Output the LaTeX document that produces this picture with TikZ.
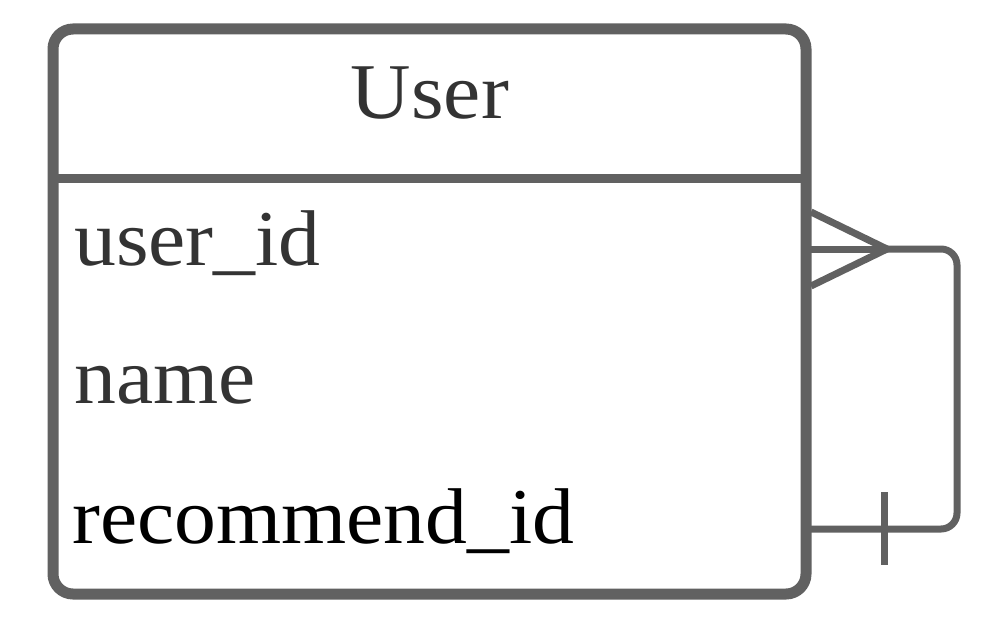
\documentclass[tikz,border=0pt]{standalone}
\usepackage{fontspec}
\setmainfont{Liberation Serif}[FakeStretch=1.06]
\definecolor{linegray}{RGB}{97,97,97}
\definecolor{textgray}{RGB}{51,51,51}
\begin{document}
\begin{tikzpicture}[x=1pt,y=-1pt,
  lbl/.style={anchor=base west,inner sep=0pt,font=\fontsize{79}{90}\selectfont},
  conn/.style={draw=linegray,line width=7pt}]
\useasboundingbox (0,0) rectangle (982,626);
\draw[draw=linegray,line width=11pt,rounded corners=20pt] (53,29) rectangle (806,594);
\coordinate (hl) at (53,178);
\coordinate (hr) at (806,178);
\draw[draw=linegray,line width=9pt] (hl) -- (hr);
\node[lbl,anchor=base,text=textgray] (title) at (430,118) {User};
\node[lbl,text=textgray] (f1) at (74,265) {user\_id};
\node[lbl,text=textgray] (f2) at (74,403) {name};
\node[lbl,text=black] (f3) at (72,543) {recommend\_id};
% connector
\coordinate (tip) at (887,249);
\coordinate (mup) at (811,212);
\coordinate (mmid) at (811,249);
\coordinate (mlow) at (811,286);
\coordinate (bend1) at (957,249);
\coordinate (bend2) at (957,529);
\coordinate (endb) at (806,529);
\coordinate (bartop) at (884,492);
\coordinate (barbot) at (884,565);
\draw[conn] (mup) -- (tip) -- (mlow);
\draw[conn] (mmid) -- (tip);
\draw[conn,rounded corners=16pt] (tip) -- (bend1) -- (bend2) -- (endb);
\draw[conn] (bartop) -- (barbot);
\end{tikzpicture}
\end{document}
